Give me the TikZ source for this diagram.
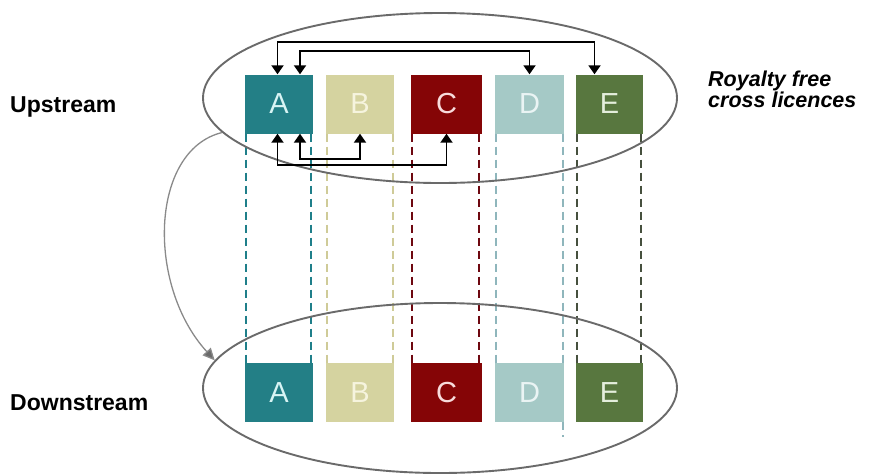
\documentclass[tikz,border=0pt]{standalone}
\usepackage{fontspec}
\setmainfont{Liberation Sans}
\usetikzlibrary{shapes.geometric,arrows.meta}
\definecolor{cA}{HTML}{237F86}
\definecolor{cB}{HTML}{D5D3A0}
\definecolor{cC}{HTML}{850506}
\definecolor{cD}{HTML}{A5C9C6}
\definecolor{cE}{HTML}{58773F}
\definecolor{tA}{HTML}{D8F4F4}
\definecolor{tB}{HTML}{F6F4DE}
\definecolor{tC}{HTML}{F8DCDC}
\definecolor{tD}{HTML}{EAF4F4}
\definecolor{tE}{HTML}{E4EEDC}
\definecolor{dA}{HTML}{1F7F8A}
\definecolor{dB}{HTML}{CFCB98}
\definecolor{dC}{HTML}{6E0810}
\definecolor{dD}{HTML}{8FB6BC}
\definecolor{dE}{HTML}{46503E}
\definecolor{ellgray}{HTML}{6A6A6A}
\definecolor{curvegray}{HTML}{8A8A8A}
\tikzset{
  firm/.style={draw=none, inner sep=0pt, minimum width=68pt, minimum height=59pt,
     font=\fontsize{29}{29}\selectfont},
  ring/.style={ellipse, draw=ellgray, line width=1.9pt, minimum width=474pt,
     minimum height=170pt, inner sep=0pt},
  licence/.style={black, line width=1.9pt, {Triangle[width=12pt,length=9pt]}-{Triangle[width=12pt,length=9pt]}},
  guide/.style={line width=1.7pt, dash pattern=on 8pt off 5pt},
  lbl/.style={inner sep=0pt, font=\bfseries\fontsize{23}{23}\selectfont},
  lbli/.style={inner sep=0pt, font=\bfseries\itshape\fontsize{21.5}{21.5}\selectfont}
}
\begin{document}
\begin{tikzpicture}[x=1pt,y=-1pt]
\useasboundingbox (0,0) rectangle (874,475);
% boxes upstream
\node[firm, fill=cA, text=tA] (uA) at (279,104) {A};
\node[firm, fill=cB, text=tB] (uB) at (360,104) {B};
\node[firm, fill=cC, text=tC, minimum width=71pt] (uC) at (446.5,104) {C};
\node[firm, fill=cD, text=tD, minimum width=69pt] (uD) at (529.5,104) {D};
\node[firm, fill=cE, text=tE, minimum width=67pt] (uE) at (609.5,104) {E};
% boxes downstream
\node[firm, fill=cA, text=tA] (dAn) at (279,392.5) {A};
\node[firm, fill=cB, text=tB] (dBn) at (360,392.5) {B};
\node[firm, fill=cC, text=tC, minimum width=71pt] (dCn) at (446.5,392.5) {C};
\node[firm, fill=cD, text=tD, minimum width=69pt] (dDn) at (529.5,392.5) {D};
\node[firm, fill=cE, text=tE, minimum width=67pt] (dEn) at (609.5,392.5) {E};
% dashed guides
\draw[guide, dA] ([xshift=1pt]uA.south west) -- ([xshift=1pt]dAn.north west);
\draw[guide, dA] ([xshift=-2pt]uA.south east) -- ([xshift=-2pt]dAn.north east);
\draw[guide, dB] ([xshift=1pt]uB.south west) -- ([xshift=1pt]dBn.north west);
\draw[guide, dB] ([xshift=-1pt]uB.south east) -- ([xshift=-1pt]dBn.north east);
\draw[guide, dC] ([xshift=1.5pt]uC.south west) -- ([xshift=1.5pt]dCn.north west);
\draw[guide, dC] ([xshift=-3pt]uC.south east) -- ([xshift=-3pt]dCn.north east);
\draw[guide, dD] ([xshift=1pt]uD.south west) -- ([xshift=1pt]dDn.north west);
\draw[guide, dD] ([xshift=-1.5pt]uD.south east) -- ([xshift=-1.5pt]dDn.north east);
\coordinate (dDtail) at ([xshift=-1.5pt,yshift=-15pt]dDn.south east);
\draw[guide, dD] ([xshift=-1.5pt]dDn.south east) -- (dDtail);
\draw[guide, dE] ([xshift=1pt]uE.south west) -- ([xshift=1pt]dEn.north west);
\draw[guide, dE] ([xshift=-2pt]uE.south east) -- ([xshift=-2pt]dEn.north east);
% ellipses
\node[ring] (up) at (440,98) {};
\node[ring] (down) at (440,388) {};
% curved arrow
\draw[curvegray, line width=1.3pt, -{Triangle[width=11pt,length=12pt,fill=ellgray]}]
  (up.189) .. controls (150,150) and (146,285) .. (down.173);
% licence arrows
\draw[licence] ([xshift=-1.5pt]uA.north) |- ([xshift=-15pt,yshift=32pt]uE.north) -- ([xshift=-15pt]uE.north);
\draw[licence] ([xshift=21pt]uA.north) |- ([yshift=23pt]uD.north) -- (uD.north);
\draw[licence] ([xshift=-1.5pt]uA.south) |- ([yshift=-31pt]uC.south) -- (uC.south);
\draw[licence] ([xshift=21pt]uA.south) |- ([yshift=-25pt]uB.south) -- (uB.south);
% labels
\node[lbl, anchor=base west] (lup) at (10,112) {Upstream};
\node[lbl, anchor=base west] (ldown) at (10,410) {Downstream};
\node[lbli, anchor=base west] (roy1) at (708,86) {Royalty free};
\node[lbli, anchor=base west] (roy2) at (708,107) {cross licences};
\end{tikzpicture}
\end{document}
